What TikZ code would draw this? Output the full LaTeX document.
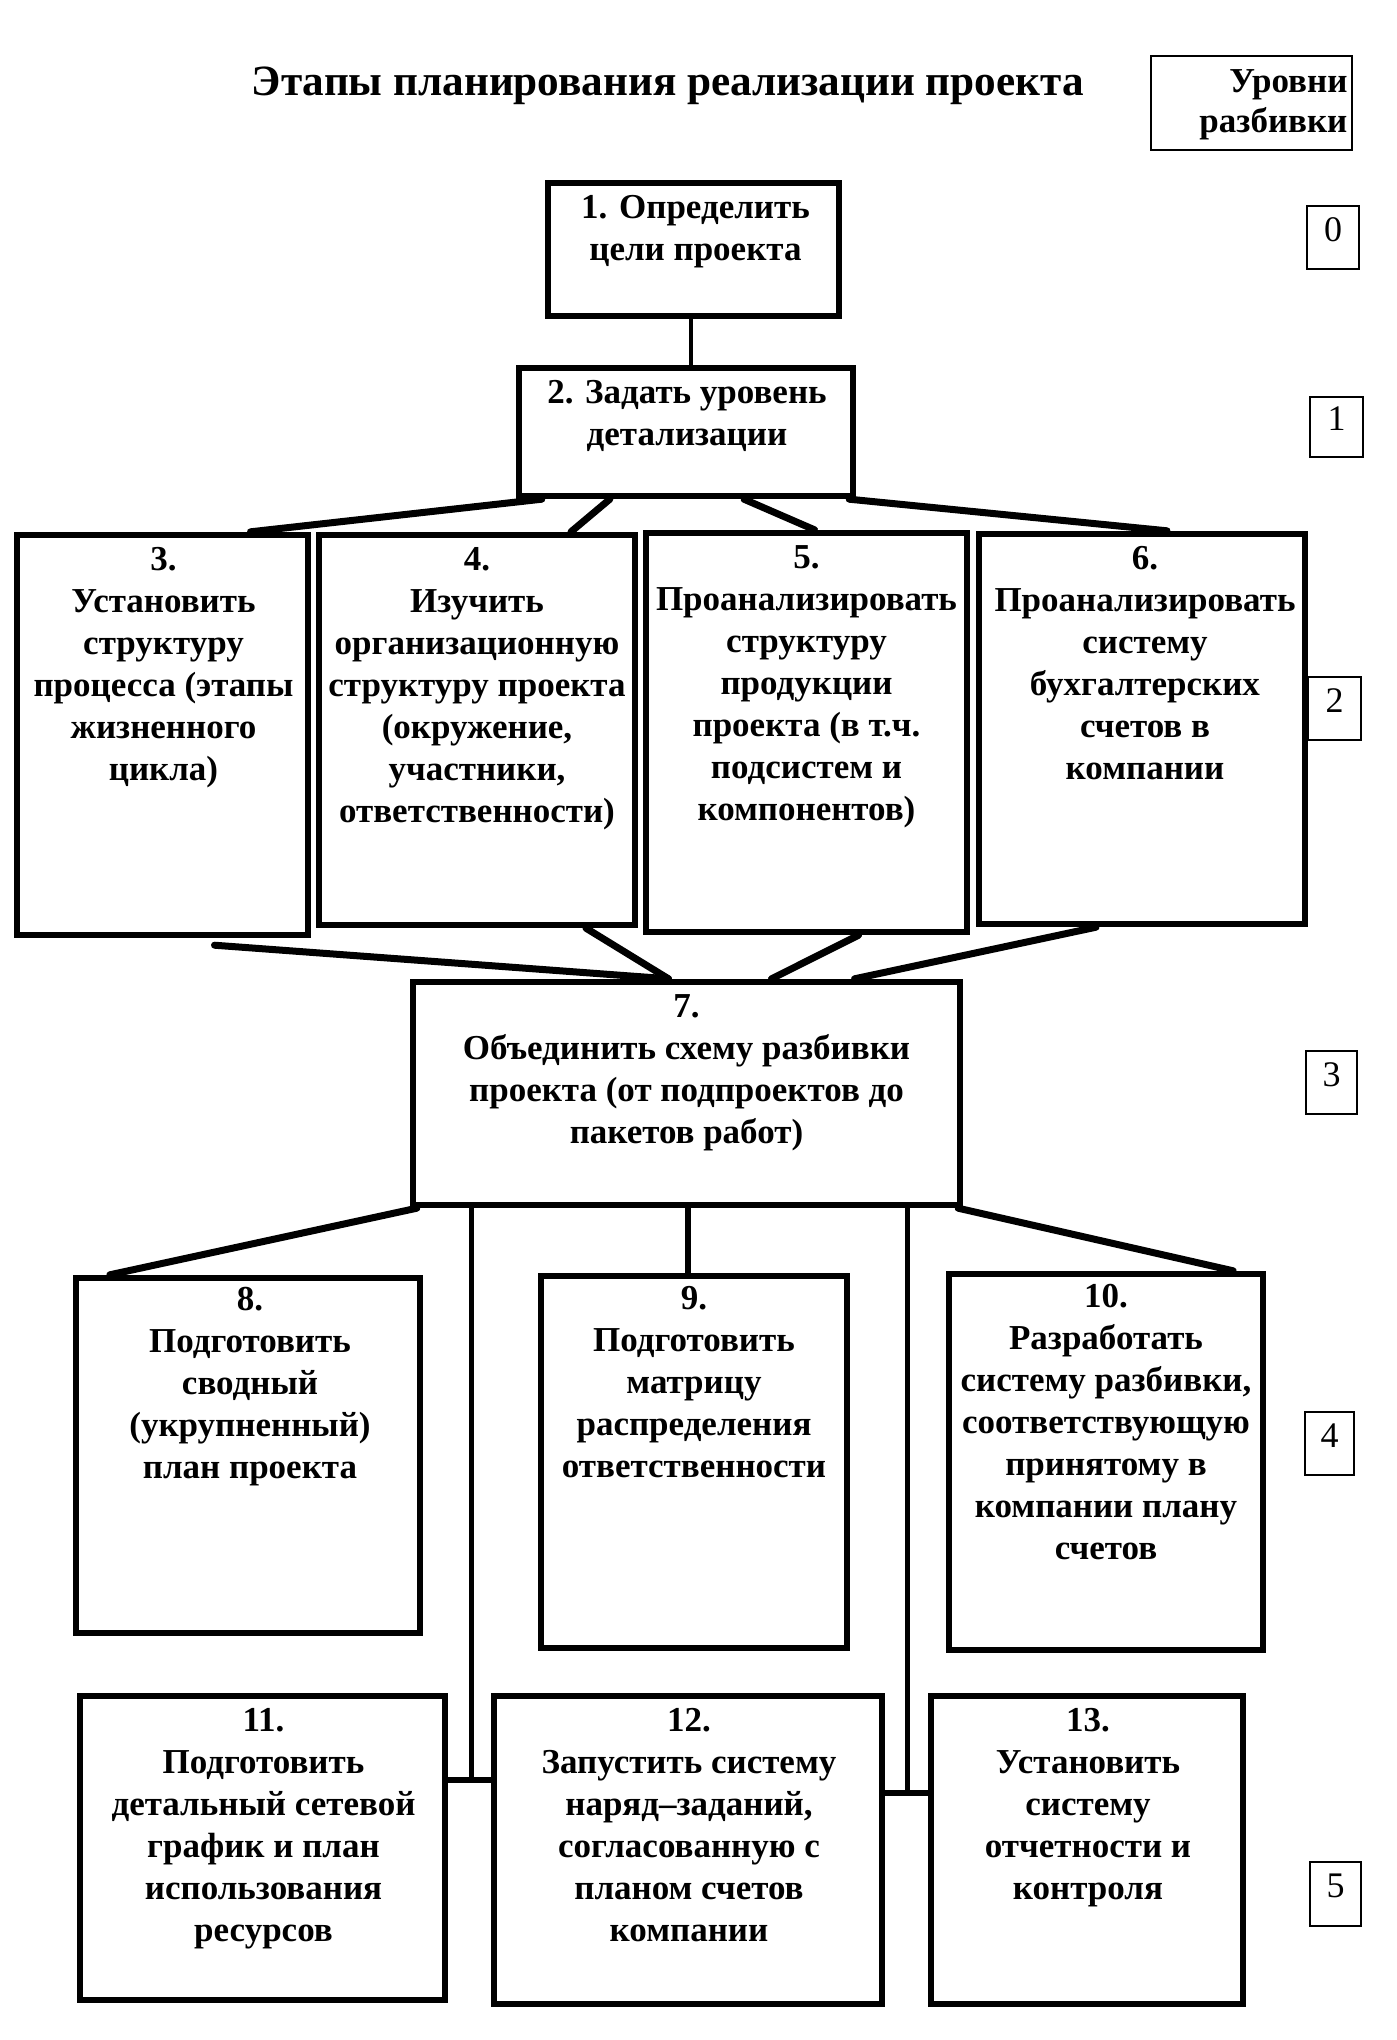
\documentclass[tikz,border=0pt]{standalone}
\usepackage{fontspec}
\setmainfont{Liberation Serif}
\usetikzlibrary{calc}
\newcommand\boxfont{\fontsize{17.5}{21}\selectfont\bfseries}
\newcommand\hdrfont{\fontsize{17.5}{20}\selectfont\bfseries}
\newcommand\digfont{\fontsize{18}{21}\selectfont}
\newcommand\titlefont{\fontsize{21.6}{26}\selectfont\bfseries}
\begin{document}
\begin{tikzpicture}[x=0.5pt,y=-0.5pt,
  stagebox/.style 2 args={draw, line width=3.2pt, inner sep=0pt, minimum width=#1, minimum height=#2},
  lvlbox/.style 2 args={draw, line width=1pt, inner sep=0pt, minimum width=#1, minimum height=#2},
  txt/.style={anchor=north, align=center, inner sep=0pt, font=\boxfont, execute at begin node=\strut},
  digit/.style={inner sep=0pt, font=\digfont},
  conn/.style={line width=3.5pt, line cap=round},
  vconn/.style={line width=2.6pt},
]
\useasboundingbox (0,0) rectangle (1397,2040);

% title
\node[anchor=base, inner sep=0pt, font=\titlefont] (title) at (668,95) {Этапы планирования реализации проекта};

% header box
\node[draw, line width=0.8pt, inner sep=0pt, minimum width=100.5pt, minimum height=47pt] (H) at (1251.5,103) {};
\node[anchor=north east, align=right, inner sep=0pt, font=\hdrfont, execute at begin node=\strut] (Ht) at ($(H.north east)+(-5,14)$) {Уровни\\разбивки};

% stage boxes
\node[stagebox={145.5pt}{66.5pt}] (b1) at (693.5,249.5) {};
\node[stagebox={167pt}{64pt}] (b2) at (686,432) {};
\node[stagebox={145.5pt}{200pt}] (b3) at (162.5,735) {};
\node[stagebox={158pt}{195pt}] (b4) at (477,730) {};
\node[stagebox={160.5pt}{199.5pt}] (b5) at (806.5,732.5) {};
\node[stagebox={163pt}{195pt}] (b6) at (1142,729) {};
\node[stagebox={273.5pt}{111.5pt}] (b7) at (686.5,1093.5) {};
\node[stagebox={172pt}{177.5pt}] (b8) at (248,1455.5) {};
\node[stagebox={153pt}{186pt}] (b9) at (694,1462) {};
\node[stagebox={157pt}{188pt}] (b10) at (1106,1462) {};
\node[stagebox={182.5pt}{152pt}] (b11) at (262.5,1848) {};
\node[stagebox={194pt}{154pt}] (b12) at (688,1850) {};
\node[stagebox={156pt}{154pt}] (b13) at (1087,1850) {};

% texts
\node[txt] (t1) at ($(b1.north)+(2,15)$) {1. Определить\\цели проекта};
\node[txt] (t2) at ($(b2.north)+(1,15)$) {2. Задать уровень\\детализации};
\node[txt] (t3) at ($(b3.north)+(1,15)$) {3.\\Установить\\структуру\\процесса (этапы\\жизненного\\цикла)};
\node[txt] (t4) at ($(b4.north)+(0,15)$) {4.\\Изучить\\организационную\\структуру проекта\\(окружение,\\участники,\\ответственности)};
\node[txt] (t5) at ($(b5.north)+(0,15)$) {5.\\Проанализировать\\структуру\\продукции\\проекта (в т.ч.\\подсистем и\\компонентов)};
\node[txt] (t6) at ($(b6.north)+(3,15)$) {6.\\Проанализировать\\систему\\бухгалтерских\\счетов в\\компании};
\node[txt] (t7) at ($(b7.north)+(0,15)$) {7.\\Объединить схему разбивки\\проекта (от подпроектов до\\пакетов работ)};
\node[txt] (t8) at ($(b8.north)+(2,12)$) {8.\\Подготовить\\сводный\\(укрупненный)\\план проекта};
\node[txt] (t9) at ($(b9.north)+(0,13)$) {9.\\Подготовить\\матрицу\\распределения\\ответственности};
\node[txt] (t10) at ($(b10.north)+(0,13)$) {10.\\Разработать\\систему разбивки,\\соответствующую\\принятому в\\компании плану\\счетов};
\node[txt] (t11) at ($(b11.north)+(1,15)$) {11.\\Подготовить\\детальный сетевой\\график и план\\использования\\ресурсов};
\node[txt] (t12) at ($(b12.north)+(1,15)$) {12.\\Запустить систему\\наряд–заданий,\\согласованную с\\планом счетов\\компании};
\node[txt] (t13) at ($(b13.north)+(1,15)$) {13.\\Установить\\систему\\отчетности и\\контроля};

% level boxes
\node[lvlbox={26pt}{31.5pt}] (L0) at (1333,237.5) {};
\node[lvlbox={26.5pt}{30pt}] (L1) at (1336.5,427) {};
\node[lvlbox={26.5pt}{31.5pt}] (L2) at (1334.5,708.5) {};
\node[lvlbox={25.5pt}{31.5pt}] (L3) at (1331.5,1082.5) {};
\node[lvlbox={24.5pt}{31.5pt}] (L4) at (1329.5,1443.5) {};
\node[lvlbox={25.5pt}{32pt}] (L5) at (1335.5,1894) {};
\node[digit] (d0) at ($(L0.center)+(0,-8)$) {0};
\node[digit] (d1) at ($(L1.center)+(0,-8)$) {1};
\node[digit] (d2) at ($(L2.center)+(0,-8)$) {2};
\node[digit] (d3) at ($(L3.center)+(0,-8)$) {3};
\node[digit] (d4) at ($(L4.center)+(0,-8)$) {4};
\node[digit] (d5) at ($(L5.center)+(0,-8)$) {5};

% connectors
\draw[line width=2.2pt] ($(b1.south)+(-2.5,0)$) -- ($(b2.north)+(5,0)$);

\draw[conn] ($(b2.south west)+(26,0)$) -- ($(b3.north)+(88,0)$);
\draw[conn] ($(b2.south west)+(94,0)$) -- ($(b4.north)+(94,0)$);
\draw[conn] ($(b2.south)+(58,0)$) -- ($(b5.north)+(8,0)$);
\draw[conn] ($(b2.south east)+(-7,0)$) -- ($(b6.north)+(25,0)$);

\draw[conn] ($(b3.south)+(52,7)$) -- ($(b7.north)+(-18,0)$);
\draw[conn] ($(b4.south)+(109,0)$) -- ($(b7.north)+(-18,0)$);
\draw[conn] ($(b5.south)+(52,0)$) -- ($(b7.north)+(85,0)$);
\draw[conn] ($(b6.south)+(-46,0)$) -- ($(b7.north)+(168,0)$);

\draw[conn] ($(b7.south west)+(7,0)$) -- ($(b8.north west)+(37,0)$);
\draw[vconn] ($(b7.south)+(1.5,0)$) -- ($(b9.north)+(-6,0)$);
\draw[conn] ($(b7.south east)+(-5,0)$) -- ($(b10.north east)+(-33,0)$);

\coordinate (jl) at ($(b7.south west)+(62,572)$);
\coordinate (jr) at ($(b7.south east)+(-56,585)$);
\draw[vconn] ($(b7.south west)+(62,0)$) -- (jl);
\draw[line width=3pt] (b11.east |- jl) -- (b12.west |- jl);
\draw[vconn] ($(b7.south east)+(-56,0)$) -- (jr);
\draw[line width=3pt] (b12.east |- jr) -- (b13.west |- jr);
\end{tikzpicture}
\end{document}
